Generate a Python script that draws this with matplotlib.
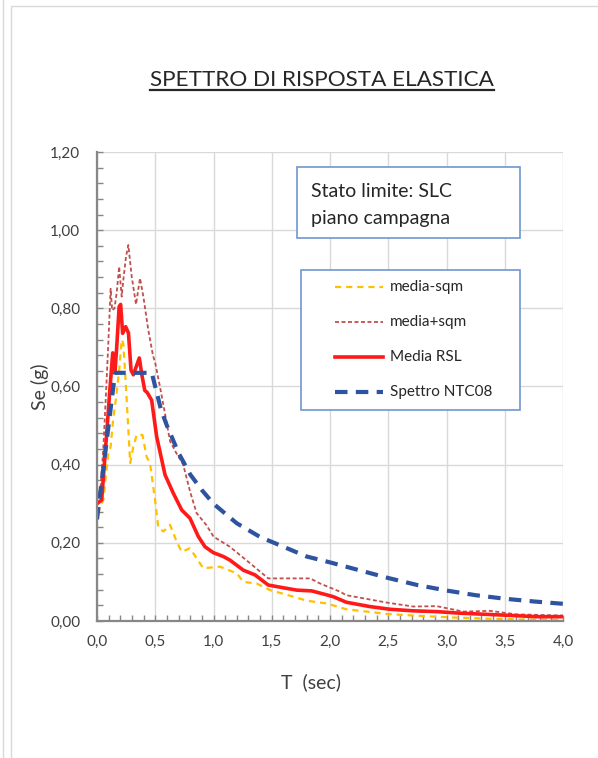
import matplotlib
matplotlib.use("Agg")
import matplotlib.pyplot as plt
from matplotlib.lines import Line2D
from matplotlib.patches import Rectangle
from matplotlib.ticker import MultipleLocator, FuncFormatter

plt.rcParams['font.family'] = ['Lato', 'DejaVu Sans']

# media-sqm
t_meno = [0, 0.054, 0.097, 0.117, 0.14, 0.163, 0.19, 0.212, 0.226, 0.255, 0.285, 0.312, 0.34,
          0.39, 0.426, 0.455, 0.498, 0.526, 0.57, 0.627, 0.684, 0.727, 0.798, 0.912, 1.056,
          1.2, 1.256, 1.37, 1.485, 1.63, 1.8, 1.97, 2.14, 2.49, 2.77, 3.06, 3.345, 3.63, 4.0]
se_meno = [0.275, 0.31, 0.43, 0.446, 0.52, 0.57, 0.64, 0.72, 0.71, 0.565, 0.404, 0.446, 0.476,
           0.476, 0.42, 0.404, 0.31, 0.24, 0.229, 0.246, 0.203, 0.177, 0.186, 0.135, 0.139,
           0.122, 0.10, 0.096, 0.079, 0.067, 0.052, 0.045, 0.030, 0.018, 0.013, 0.009, 0.006, 0.004, 0.003]

# media+sqm
t_piu = [0, 0.03, 0.054, 0.08, 0.097, 0.117, 0.13, 0.15, 0.169, 0.19, 0.212, 0.226, 0.249, 0.269,
         0.298, 0.335, 0.369, 0.398, 0.44, 0.48, 0.5, 0.54, 0.584, 0.627, 0.68, 0.74, 0.8, 0.855,
         0.94, 1.0, 1.14, 1.313, 1.47, 1.83, 1.914, 2.086, 2.14, 2.49, 2.715, 2.916, 3.145,
         3.373, 3.6, 4.0]
se_piu = [0.31, 0.34, 0.44, 0.6, 0.71, 0.85, 0.795, 0.80, 0.84, 0.907, 0.83, 0.873, 0.932, 0.962,
          0.881, 0.81, 0.877, 0.83, 0.745, 0.68, 0.66, 0.60, 0.53, 0.46, 0.43, 0.40, 0.33, 0.276,
          0.245, 0.216, 0.19, 0.148, 0.109, 0.109, 0.096, 0.075, 0.066, 0.047, 0.037, 0.038, 0.024,
          0.026, 0.017, 0.014]

# Media RSL
t_rsl = [0, 0.04, 0.083, 0.11, 0.135, 0.155, 0.169, 0.19, 0.203, 0.22, 0.246, 0.27, 0.292,
         0.312, 0.363, 0.385, 0.41, 0.43, 0.469, 0.512, 0.584, 0.655, 0.727, 0.798, 0.87, 0.927,
         0.998, 1.084, 1.14, 1.256, 1.356, 1.47, 1.6, 1.714, 1.843, 1.97, 2.03, 2.14, 2.34,
         2.515, 2.715, 2.916, 3.116, 3.345, 3.57, 3.77, 4.0]
se_rsl = [0.30, 0.31, 0.48, 0.59, 0.686, 0.64, 0.70, 0.804, 0.81, 0.736, 0.753, 0.737, 0.642,
          0.63, 0.673, 0.63, 0.59, 0.585, 0.565, 0.472, 0.374, 0.327, 0.284, 0.263, 0.216, 0.19,
          0.175, 0.165, 0.156, 0.13, 0.118, 0.092, 0.085, 0.079, 0.077, 0.067, 0.062, 0.048, 0.037,
          0.030, 0.026, 0.024, 0.020, 0.017, 0.014, 0.011, 0.011]

# Spettro NTC08
t_ntc = [0, 0.155, 0.47, 0.55, 0.6, 0.7, 0.8, 0.9, 1.0, 1.2, 1.4, 1.6, 1.8, 2.0, 2.25, 2.5,
         2.75, 3.0, 3.25, 3.5, 3.75, 4.0]
se_ntc = [0.26, 0.635, 0.635, 0.54, 0.50, 0.43, 0.375, 0.335, 0.30, 0.25, 0.215, 0.19, 0.165,
          0.15, 0.13, 0.11, 0.092, 0.078, 0.066, 0.057, 0.050, 0.044]

labels = ['media-sqm', 'media+sqm', 'Media RSL', 'Spettro NTC08']
series = [(t_meno, se_meno), (t_piu, se_piu), (t_rsl, se_rsl), (t_ntc, se_ntc)]
styles = [dict(color='#FFC000', lw=1.6, dashes=(2.8, 2.2)),
          dict(color='#C0504D', lw=1.3, dashes=(2.2, 1.4)),
          dict(color='#FF1A1A', lw=2.6, linestyle='-'),
          dict(color='#2E54A1', lw=3.0, dashes=(3.0, 2.0))]

W, H = 598, 758
def fx(x):
    return x / W
def fy(y):
    return 1 - y / H

fig = plt.figure(figsize=(W / 100, H / 100), dpi=100)
ax = fig.add_axes([fx(97), fy(621), (563 - 97) / W, (621 - 152) / H])

for (t, se), st, lab in zip(series, styles, labels):
    ax.plot(t, se, label=lab, **st)

ax.set_xlim(0, 4)
ax.set_ylim(0, 1.2)
ax.xaxis.set_major_locator(MultipleLocator(0.5))
ax.xaxis.set_minor_locator(MultipleLocator(0.1))
ax.yaxis.set_major_locator(MultipleLocator(0.2))
ax.yaxis.set_minor_locator(MultipleLocator(0.04))
ax.xaxis.set_major_formatter(FuncFormatter(lambda v, p: f"{v:.1f}".replace('.', ',')))
ax.yaxis.set_major_formatter(FuncFormatter(lambda v, p: f"{v:.2f}".replace('.', ',')))
ax.grid(which='major', color='#D9D9D9', lw=1)
ax.set_axisbelow(True)
for s in ['top', 'right']:
    ax.spines[s].set_visible(False)
for s in ['left', 'bottom']:
    ax.spines[s].set_color('#878787')
    ax.spines[s].set_linewidth(1.6)
ax.tick_params(which='both', direction='in', color='#878787', length=4, width=1,
               labelsize=11, labelcolor='#404040')
ax.tick_params(axis='y', pad=12)
ax.tick_params(axis='x', pad=10)

fig.text(fx(40), fy(387), 'Se (g)', rotation=90, ha='center', va='center',
         fontsize=14, color='#404040')
fig.text(fx(311), fy(682), 'T  (sec)', ha='center', va='center', fontsize=14, color='#404040')

# title, fitted to the reference width, underlined
title = fig.text(fx(322), fy(86), 'SPETTRO DI RISPOSTA ELASTICA', ha='center', va='baseline',
                 fontsize=20, color='#262626')
fig.canvas.draw()
bb = title.get_window_extent()
title.set_fontsize(20 * 344 / bb.width)
fig.canvas.draw()
bb = title.get_window_extent()
fig.add_artist(Line2D([bb.x0 / W, bb.x1 / W], [fy(90), fy(90)], transform=fig.transFigure,
                      color='#262626', lw=1.6))

# info box
fig.add_artist(Rectangle((fx(297), fy(237.5)), (519.5 - 297) / W, (237.5 - 167) / H,
                         transform=fig.transFigure, facecolor='white', edgecolor='#6F97D0', lw=1.2))
fig.text(fx(311), fy(196.7), 'Stato limite: SLC', va='baseline', fontsize=14, color='#262626')
fig.text(fx(311), fy(224), 'piano campagna', va='baseline', fontsize=14, color='#262626')

# legend
fig.add_artist(Rectangle((fx(301), fy(410)), (520 - 301) / W, (410 - 270) / H,
                         transform=fig.transFigure, facecolor='white', edgecolor='#6F97D0', lw=1.2))
for yy, st, lab in zip([287.3, 322.3, 357.3, 392.3], styles, labels):
    fig.add_artist(Line2D([fx(335), fx(383)], [fy(yy), fy(yy)], transform=fig.transFigure, **st))
    fig.text(fx(390), fy(yy), lab, va='center', fontsize=11, color='#262626')

# page frame
fig.add_artist(Line2D([fx(2.5), fx(2.5)], [0, 1], transform=fig.transFigure, color='#D9D9D9', lw=1))
fig.add_artist(Line2D([fx(10.5), fx(10.5), 1], [0, fy(5.5), fy(5.5)], transform=fig.transFigure,
                      color='#D9D9D9', lw=1))

fig.savefig('out.png', dpi=100)
